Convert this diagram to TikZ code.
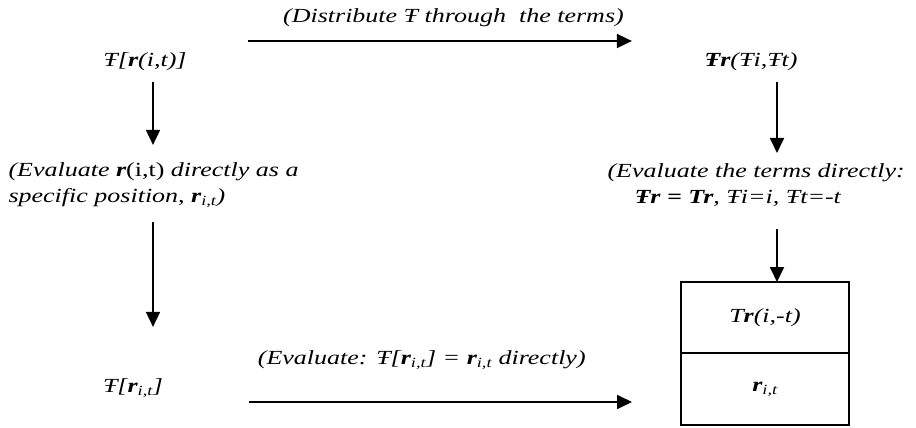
\documentclass[tikz,border=0pt]{standalone}
\usepackage{fontspec}
\setmainfont{Liberation Serif}[FakeStretch=1.3]
\usetikzlibrary{arrows.meta}
\newcommand{\rit}{\textbf{r}\textsubscript{\normalfont\itshape i,t}}
\tikzset{
  lbl/.style={font=\fontsize{20}{26}\selectfont\itshape},
  arr/.style={line width=1.8pt,-{Triangle[length=15pt,width=14pt]}},
  cell/.style={draw,line width=1.8pt,outer sep=0pt,minimum width=168pt,lbl}
}
\begin{document}
\begin{tikzpicture}[x=1pt,y=-1pt]
\useasboundingbox (0,0) rectangle (916,428);

\node[lbl] (lt) at (145,62) {Ŧ[\textbf{r}(i,t)]};
\node[lbl] (rt) at (751,62) {\textbf{Ŧr}(Ŧi,Ŧt)};

\node[lbl,anchor=west,align=left] (lm) at (5,185)
  {(Evaluate \textbf{r}{\upshape(i,t)} directly as a\\specific position, \rit)};
\node[lbl,anchor=west,align=left] (rm) at (604,185)
  {(Evaluate the terms directly:\\\hspace*{27pt}\textbf{Ŧr = Tr}, Ŧi=i, Ŧt=-t};

\node[lbl] (lb) at (133,388) {Ŧ[\rit]};

\node[cell,minimum height=71pt] (cellt) at (765,317.5) {T\textbf{r}(i,-t)};
\node[cell,minimum height=72pt,anchor=north] (cellb) at (cellt.south) {\rit};

% across
\draw[arr,shorten <=58pt,shorten >=69pt] ([yshift=21pt]lt.east) -- ([yshift=21pt]lt.east -| rt.west)
  node[lbl,midway,yshift=23pt,xshift=8pt] {(Distribute Ŧ through\ \ the terms)};
\draw[arr,shorten <=82pt,shorten >=49pt] ([yshift=-14pt]lb.east) -- ([yshift=-14pt]lb.east -| cellb.west)
  node[lbl,midway,yshift=42pt,xshift=-2pt] {(Evaluate: Ŧ[\rit] = \rit{} directly)};

% down
\draw[arr,shorten <=7pt,shorten >=14pt] ([xshift=8pt]lt.south) -- ([xshift=8pt]lt.south |- lm.north);
\draw[arr,shorten <=11pt,shorten >=48pt] ([xshift=8pt]lt.south |- lm.south) -- ([xshift=20pt]lb.north);
\draw[arr,shorten <=7pt,shorten >=7pt] ([xshift=26pt]rt.south) -- ([xshift=26pt]rt.south |- rm.north);
\draw[arr,shorten <=19pt] ([xshift=12pt]cellt.north |- rm.south) -- ([xshift=12pt]cellt.north);
\end{tikzpicture}
\end{document}
